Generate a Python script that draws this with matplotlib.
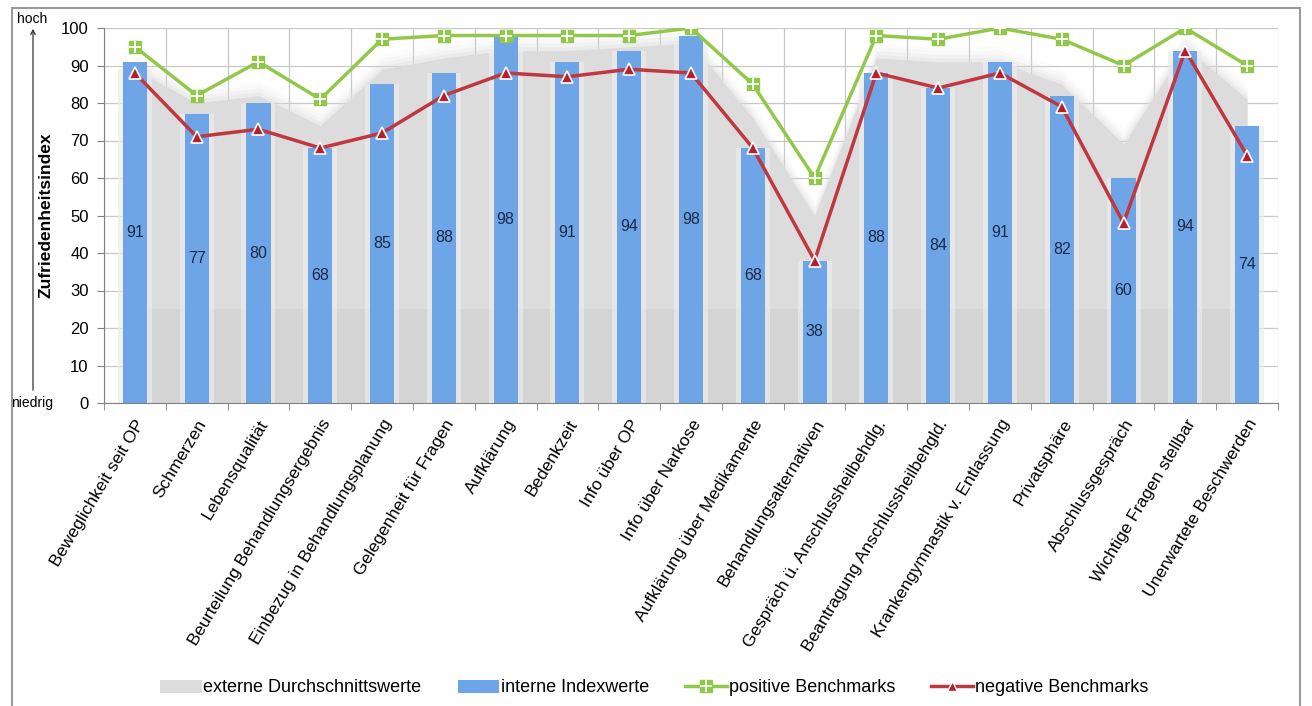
import matplotlib
matplotlib.use("Agg")
import matplotlib.pyplot as plt
from matplotlib.patches import Rectangle, Patch, FancyArrowPatch
from matplotlib.lines import Line2D
from matplotlib.legend_handler import HandlerTuple
import numpy as np

plt.rcParams['font.family'] = ['Liberation Sans', 'DejaVu Sans']

categories = [
    "Beweglichkeit seit OP", "Schmerzen", "Lebensqualität",
    "Beurteilung Behandlungsergebnis", "Einbezug in Behandlungsplanung",
    "Gelegenheit für Fragen", "Aufklärung", "Bedenkzeit", "Info über OP",
    "Info über Narkose", "Aufklärung über Medikamente",
    "Behandlungsalternativen", "Gespräch ü. Anschlussheilbehdlg.",
    "Beantragung Anschlussheilbehgld.", "Krankengymnastik v. Entlassung",
    "Privatsphäre", "Abschlussgespräch", "Wichtige Fragen stellbar",
    "Unerwartete Beschwerden",
]
extern_avg = [89, 80, 82, 74, 89, 92, 94, 94, 95, 96, 76, 50, 92, 91, 91, 85, 69, 95, 81]
intern_idx = [91, 77, 80, 68, 85, 88, 98, 91, 94, 98, 68, 38, 88, 84, 91, 82, 60, 94, 74]
pos_bench = [95, 82, 91, 81, 97, 98, 98, 98, 98, 100, 85, 60, 98, 97, 100, 97, 90, 100, 90]
neg_bench = [88, 71, 73, 68, 72, 82, 88, 87, 89, 88, 68, 38, 88, 84, 88, 79, 48, 94, 66]
y_ticks = list(range(0, 101, 10))

GREY = '#dcdcdc'
BLUE = '#6ea5e6'
GREEN = '#92c84a'
RED = '#c1373f'
RED_MK = '#b3202c'
TXT = '#1a2a48'

W, H = 1312, 706
fig = plt.figure(figsize=(W / 100, H / 100), dpi=100)
ax = fig.add_axes([104 / W, 1 - 403 / H, (1278 - 104) / W, (403 - 28) / H])

x = np.arange(len(categories))
ext = np.array(extern_avg, dtype=float)

# external averages: area with a soft halo along its top edge
for off, a in [(4.0, 0.08), (3.0, 0.12), (2.0, 0.18), (1.0, 0.28)]:
    ax.fill_between(x, 0, ext + off, color=GREY, alpha=a, lw=0, zorder=1)
ax.fill_between(x, 0, ext, color=GREY, lw=0, zorder=1.1)
ax.fill_between(x, 0, np.minimum(ext, 25), color='#d4d4d4', lw=0, zorder=1.2)

# internal index values, with a pale glow around each column
ax.bar(x, np.minimum(np.array(intern_idx), ext), width=0.55,
       color='#ececec', alpha=0.7, lw=0, zorder=1.5)
ax.bar(x, intern_idx, width=0.39, color=BLUE, zorder=2)
for xi, v in zip(x, intern_idx):
    ax.text(xi, v / 2, f"{v}", ha='center', va='center', fontsize=11.5,
            color=TXT, zorder=5)

# benchmarks
ax.plot(x, pos_bench, color=GREEN, lw=2.5, zorder=3)
ax.plot(x, pos_bench, ls='none', marker='s', ms=9, mfc=GREEN, mec=GREEN, zorder=4)
ax.plot(x, pos_bench, ls='none', marker='+', ms=9, mew=1.3, color='white', zorder=4.1)
ax.plot(x, neg_bench, color=RED, lw=2.5, zorder=3.2)
ax.plot(x, neg_bench, ls='none', marker='^', ms=9, mfc=RED_MK, mec='white', mew=1.2, zorder=4.2)

ax.set_xlim(-0.5, len(categories) - 0.5)
ax.set_ylim(0, 100)
ax.set_yticks(y_ticks)
ax.set_yticklabels([str(t) for t in y_ticks], fontsize=12)
ax.set_xticks(x)
ax.set_xticklabels(categories, rotation=59, ha='right', rotation_mode='anchor',
                   fontsize=12.5)
ax.tick_params(axis='x', length=0, pad=10)
ax.set_xticks(np.arange(-0.5, len(categories), 1), minor=True)
ax.tick_params(axis='x', which='minor', length=5, color='#808080')
ax.tick_params(axis='y', length=5, color='#808080', pad=6)

ax.grid(False)
for gx in np.arange(-0.5, len(categories), 1):
    ax.axvline(gx, color='#c8c8c8', lw=0.9, zorder=0)
for gy in y_ticks:
    ax.axhline(gy, color='#c8c8c8', lw=0.9, zorder=0)
for side in ['top', 'right']:
    ax.spines[side].set_visible(False)
for side in ['left', 'bottom']:
    ax.spines[side].set_color('#808080')
    ax.spines[side].set_zorder(6)

ax.set_ylabel("Zufriedenheitsindex", fontsize=12.5, fontweight='bold')
ax.yaxis.set_label_coords(-0.043, 0.5)

# low / high annotation at the left edge
fig.text(32 / W, 1 - 19 / H, "hoch", fontsize=10, ha='center', va='center')
fig.text(32 / W, 1 - 403 / H, "niedrig", fontsize=10, ha='center', va='center')
fig.add_artist(FancyArrowPatch(
    (33 / W, 1 - 393 / H), (33 / W, 1 - 26 / H), transform=fig.transFigure,
    arrowstyle='->', mutation_scale=8, lw=0.9, color='#333333'))

# outer frame
fig.add_artist(Rectangle((12 / W, -0.05), (1300 - 12) / W, 1 - 8 / H + 0.05,
                         transform=fig.transFigure, fill=False,
                         ec='#9a9a9a', lw=1.5))

# legend
h_ext = Patch(facecolor=GREY, edgecolor='none')
h_int = Patch(facecolor=BLUE, edgecolor='none')
h_pos = (Line2D([], [], color=GREEN, lw=2.5, marker='s', ms=8, mfc=GREEN, mec=GREEN),
         Line2D([], [], ls='none', marker='+', ms=8, mew=1.2, color='white'))
h_neg = Line2D([], [], color=RED, lw=2.5, marker='^', ms=7, mfc=RED_MK, mec='white', mew=1)
fig.legend([h_ext, h_int, h_pos, h_neg],
           ["externe Durchschnittswerte", "interne Indexwerte",
            "positive Benchmarks", "negative Benchmarks"],
           handler_map={tuple: HandlerTuple(ndivide=1, pad=0)},
           loc='center', bbox_to_anchor=(654 / W, 1 - 688 / H), ncol=4,
           frameon=False, fontsize=13, handlelength=2.3, handletextpad=0.1,
           columnspacing=2.0)

fig.savefig("out.png", dpi=100)
